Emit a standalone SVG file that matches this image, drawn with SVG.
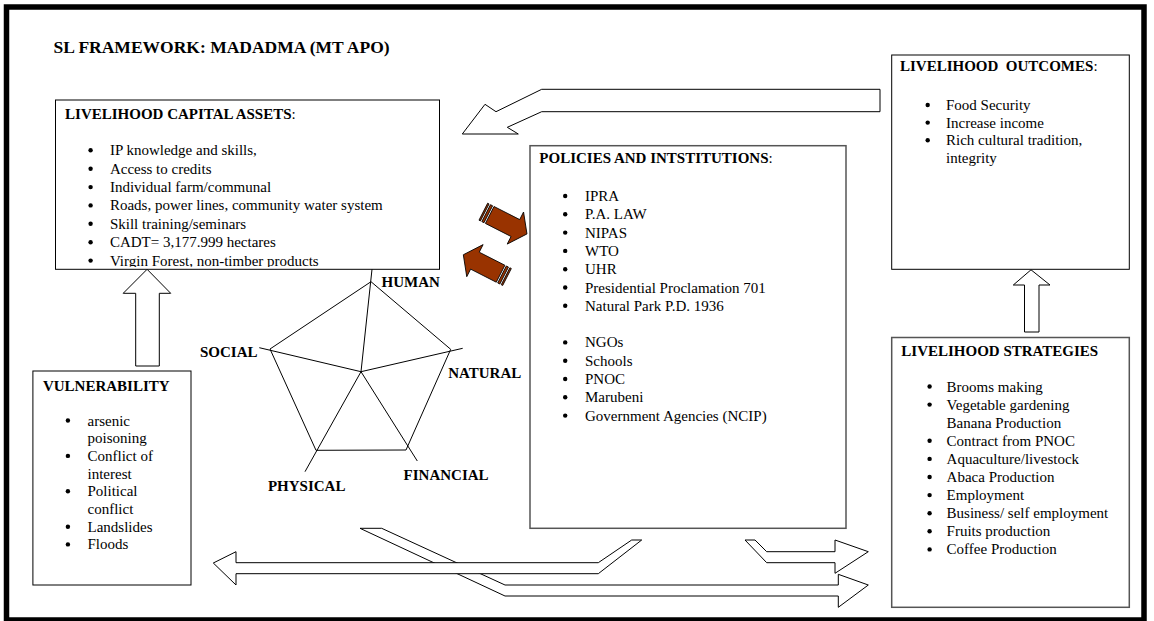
<svg xmlns="http://www.w3.org/2000/svg" width="1154" height="621" viewBox="0 0 1154 621">
<style>
text{font-family:"Liberation Serif","Times New Roman",serif;font-size:15px;fill:#000}
.b{font-weight:bold}
.ttl{font-size:17.5px;font-weight:bold}
.box{fill:#fff;stroke:#000;stroke-width:1}
.box2{fill:#fff;stroke:#555;stroke-width:1.5}
.ln{fill:none;stroke:#000;stroke-width:1}
.ar{fill:#fff;stroke:#000;stroke-width:1;stroke-linejoin:miter}
.br{fill:#993300;stroke:#000;stroke-width:0.8}
.dot{fill:#000}
</style>
<defs>
<clipPath id="capClip"><rect x="55.5" y="100" width="384" height="166.9"/></clipPath>
<g id="stripedArrow">
<rect class="br" x="0" y="-9.5" width="1.6" height="19"/>
<rect class="br" x="3.2" y="-9.5" width="2.4" height="19"/>
<polygon class="br" points="7.2,-9.5 36,-9.5 36,-18 49,0 36,18 36,9.5 7.2,9.5"/>
</g>
</defs>
<rect x="0" y="0" width="1154" height="621" fill="#fff"/>
<rect x="6.5" y="7" width="1137.5" height="613" fill="none" stroke="#000" stroke-width="5.5"/>
<text id="title" class="ttl" x="53.6" y="53.3">SL FRAMEWORK: MADADMA (MT APO)</text>

<g id="connectors">
<polygon class="ar" points="880,89.3 541.7,89.3 496,111.7 485,104.3 462.3,134 518.3,134 507.3,127.3 541.7,111.7 880,111.7"/>
<polygon class="ar" points="147.1,269.3 170.7,293.3 159.3,293.3 159.3,366 135.7,366 135.7,293.3 123.2,293.3"/>
<polygon class="ar" points="1031,269.8 1050,285 1039,285 1039,332 1024.5,332 1024.5,285 1013.3,285"/>
<use href="#stripedArrow" transform="translate(483.3,211.7) rotate(27)"/>
<use href="#stripedArrow" transform="translate(507,277) rotate(207)"/>
<polygon class="ar" points="360,528.3 381.7,528.3 505,585 838.3,585 838.3,574.3 868.3,585 838.3,607.3 838.3,596 505,596"/>
<polygon class="ar" points="213.3,563 236,551.7 236,562.7 598.3,562.7 631.7,540 641.7,540 598.3,573.7 236,573.7 236,585"/>
<polygon class="ar" points="745,540 755,540 766.7,551.7 835,551.7 835,540 868.3,551.7 835,573.3 835,562.7 766.7,562.7"/>
</g>

<g id="capital-assets">
<rect class="box" x="55.5" y="100" width="384" height="169.3"/>
<text x="65.1" y="119.3"><tspan class="b">LIVELIHOOD CAPITAL ASSETS</tspan>:</text>
<g clip-path="url(#capClip)">
<circle class="dot" cx="90.6" cy="150.3" r="2.2"/>
<circle class="dot" cx="90.6" cy="168.7" r="2.2"/>
<circle class="dot" cx="90.6" cy="187.1" r="2.2"/>
<circle class="dot" cx="90.6" cy="205.4" r="2.2"/>
<circle class="dot" cx="90.6" cy="223.8" r="2.2"/>
<circle class="dot" cx="90.6" cy="242.2" r="2.2"/>
<circle class="dot" cx="90.6" cy="260.6" r="2.2"/>
<text x="109.9" y="155.3">IP knowledge and skills,</text>
<text x="109.9" y="173.7">Access to credits</text>
<text x="109.9" y="192.1">Individual farm/communal</text>
<text x="109.9" y="210.4">Roads, power lines, community water system</text>
<text x="109.9" y="228.8">Skill training/seminars</text>
<text x="109.9" y="247.2">CADT= 3,177.999 hectares</text>
<text x="109.9" y="266">Virgin Forest, non-timber products</text>
</g>
</g>

<g id="policies-institutions">
<rect class="box2" x="530" y="145.7" width="316" height="382.6"/>
<text x="539.3" y="163.3"><tspan class="b">POLICIES AND INTSTITUTIONS</tspan>:</text>
<circle class="dot" cx="565.2" cy="196" r="2.2"/>
<circle class="dot" cx="565.2" cy="214.3" r="2.2"/>
<circle class="dot" cx="565.2" cy="232.6" r="2.2"/>
<circle class="dot" cx="565.2" cy="250.9" r="2.2"/>
<circle class="dot" cx="565.2" cy="269.2" r="2.2"/>
<circle class="dot" cx="565.2" cy="287.5" r="2.2"/>
<circle class="dot" cx="565.2" cy="305.8" r="2.2"/>
<circle class="dot" cx="565.2" cy="342.4" r="2.2"/>
<circle class="dot" cx="565.2" cy="360.7" r="2.2"/>
<circle class="dot" cx="565.2" cy="379" r="2.2"/>
<circle class="dot" cx="565.2" cy="397.3" r="2.2"/>
<circle class="dot" cx="565.2" cy="415.6" r="2.2"/>
<text x="585" y="201">IPRA</text>
<text x="585" y="219.3">P.A. LAW</text>
<text x="585" y="237.6">NIPAS</text>
<text x="585" y="255.9">WTO</text>
<text x="585" y="274.2">UHR</text>
<text x="585" y="292.5">Presidential Proclamation 701</text>
<text x="585" y="310.8">Natural Park P.D. 1936</text>
<text x="585" y="347.4">NGOs</text>
<text x="585" y="365.7">Schools</text>
<text x="585" y="384">PNOC</text>
<text x="585" y="402.3">Marubeni</text>
<text x="585" y="420.6">Government Agencies (NCIP)</text>
</g>

<g id="livelihood-outcomes">
<rect class="box" x="891.7" y="55" width="237.6" height="214.3"/>
<text x="900" y="70.7"><tspan class="b" xml:space="preserve">LIVELIHOOD  OUTCOMES</tspan>:</text>
<circle class="dot" cx="927.7" cy="105" r="2.2"/>
<circle class="dot" cx="927.7" cy="122.6" r="2.2"/>
<circle class="dot" cx="927.7" cy="140.2" r="2.2"/>
<text x="946" y="110">Food Security</text>
<text x="946" y="127.6">Increase income</text>
<text x="946" y="145.2">Rich cultural tradition,</text>
<text x="946" y="162.8">integrity</text>
</g>

<g id="livelihood-strategies">
<rect class="box2" x="891.7" y="337.5" width="237.6" height="269.8"/>
<text class="b" x="901.3" y="356">LIVELIHOOD STRATEGIES</text>
<circle class="dot" cx="929.6" cy="386.5" r="2.2"/>
<circle class="dot" cx="929.6" cy="404.6" r="2.2"/>
<circle class="dot" cx="929.6" cy="440.8" r="2.2"/>
<circle class="dot" cx="929.6" cy="458.9" r="2.2"/>
<circle class="dot" cx="929.6" cy="477" r="2.2"/>
<circle class="dot" cx="929.6" cy="495.1" r="2.2"/>
<circle class="dot" cx="929.6" cy="513.2" r="2.2"/>
<circle class="dot" cx="929.6" cy="531.3" r="2.2"/>
<circle class="dot" cx="929.6" cy="549.4" r="2.2"/>
<text x="946.6" y="391.5">Brooms making</text>
<text x="946.6" y="409.6">Vegetable gardening</text>
<text x="946.6" y="427.7">Banana Production</text>
<text x="946.6" y="445.8">Contract from PNOC</text>
<text x="946.6" y="463.9">Aquaculture/livestock</text>
<text x="946.6" y="482">Abaca Production</text>
<text x="946.6" y="500.1">Employment</text>
<text x="946.6" y="518.2">Business/ self employment</text>
<text x="946.6" y="536.3">Fruits production</text>
<text x="946.6" y="554.4">Coffee Production</text>
</g>

<g id="vulnerability">
<rect class="box" x="32.9" y="371" width="158.1" height="214"/>
<text class="b" x="42.9" y="390.7">VULNERABILITY</text>
<circle class="dot" cx="67.9" cy="420.5" r="2.2"/>
<circle class="dot" cx="67.9" cy="455.9" r="2.2"/>
<circle class="dot" cx="67.9" cy="491.3" r="2.2"/>
<circle class="dot" cx="67.9" cy="526.7" r="2.2"/>
<circle class="dot" cx="67.9" cy="544.4" r="2.2"/>
<text x="87.5" y="425.5">arsenic</text>
<text x="87.5" y="443.2">poisoning</text>
<text x="87.5" y="460.9">Conflict of</text>
<text x="87.5" y="478.6">interest</text>
<text x="87.5" y="496.3">Political</text>
<text x="87.5" y="514">conflict</text>
<text x="87.5" y="531.7">Landslides</text>
<text x="87.5" y="549.4">Floods</text>
</g>

<g id="asset-pentagon">
<polygon class="ln" points="371,281.7 450.7,349.3 406,450 316,450.3 270,349"/>
<line class="ln" x1="361" y1="371.7" x2="372" y2="269.3"/>
<line class="ln" x1="361" y1="371.7" x2="259.3" y2="347.7"/>
<line class="ln" x1="361" y1="371.7" x2="462.7" y2="348.3"/>
<line class="ln" x1="361" y1="371.7" x2="305" y2="471.7"/>
<line class="ln" x1="361" y1="371.7" x2="417.3" y2="461"/>
<text class="b" x="381.5" y="287.3">HUMAN</text>
<text class="b" x="200" y="356.5">SOCIAL</text>
<text class="b" x="448.2" y="378.3">NATURAL</text>
<text class="b" x="403.6" y="480">FINANCIAL</text>
<text class="b" x="267.9" y="491">PHYSICAL</text>
</g>
</svg>
